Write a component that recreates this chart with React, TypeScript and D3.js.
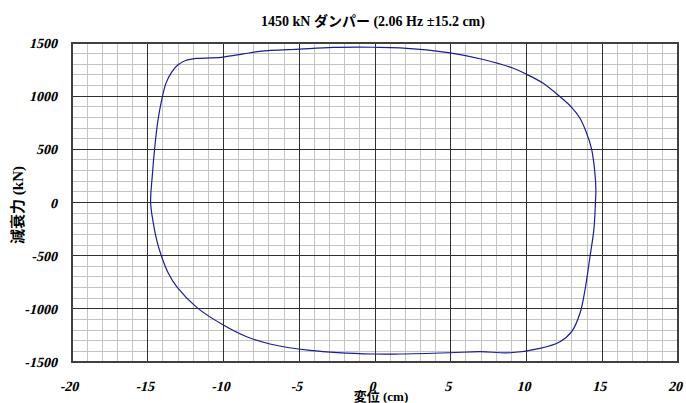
import React from "react";
import * as d3 from "d3";

const title = "1450 kN ダンパー (2.06 Hz  ±15.2 cm)";
const xTitle = "変位 (cm)";
const yTitle = "減衰力 (kN)";
const xTicks = [-20, -15, -10, -5, 0, 5, 10, 15, 20];
const yTicks = [-1500, -1000, -500, 0, 500, 1000, 1500];

// loop points (displacement cm, force kN)
const disp = [
  -14.81, -14.7, -14.55, -14.35, -14.1, -13.8, -13.4, -13.0, -12.5, -11.8, -10.8, -10.01, -8.69, -7.59, -4.95,
  -2.75, -0.11, 1.65, 4.95, 7.15, 9.13, 10.01, 11.1, 12.21, 12.98, 13.53, 13.97, 14.3, 14.5, 14.58,
  14.55, 14.45, 14.19, 13.86, 13.53, 12.98, 12.21, 10.89, 8.91, 6.93, 4.95, 1.65, -0.11, -4.29, -6.93,
  -8.47, -10.01, -11.77, -13.09, -13.64, -14.08, -14.41, -14.63,
];
const force = [
  0, 250, 500, 750, 950, 1120, 1230, 1295, 1335, 1355, 1360, 1368, 1397, 1422, 1443,
  1458, 1460, 1455, 1408, 1345, 1262, 1205, 1121, 995, 895, 792, 651, 500, 300, 120,
  0, -250, -510, -823, -1042, -1215, -1309, -1372, -1413, -1403, -1413, -1425, -1425, -1390, -1331,
  -1262, -1152, -986, -792, -666, -510, -353, -196,
];

export default function App() {
  const W = 686;
  const H = 403;
  const L = 72, R = 678, T = 43, B = 362;
  const x = d3.scaleLinear().domain([-20, 20]).range([L, R]);
  const y = d3.scaleLinear().domain([-1500, 1500]).range([B, T]);

  const minorX = d3.range(-20, 21, 1).filter((v) => v % 5 !== 0);
  const minorY = d3.range(-1500, 1501, 100).filter((v) => v % 500 !== 0);

  const pts: [number, number][] = disp.map((d, i) => [d, force[i]]);
  const line = d3
    .line<[number, number]>()
    .x((d) => x(d[0]))
    .y((d) => y(d[1]))
    .curve(d3.curveCatmullRomClosed.alpha(0.5));

  const serif = "'Liberation Serif', 'Times New Roman', 'Noto Sans CJK JP', serif";
  const tickStyle: React.CSSProperties = {
    fontFamily: serif,
    fontSize: "14px",
    fontWeight: "bold",
  };
  const labStyle: React.CSSProperties = {
    fontFamily: serif,
    fontSize: "13px",
    fontWeight: "bold",
  };

  return (
    <svg width={W} height={H} style={{ position: "absolute", left: 0, top: 0, background: "#fff" }}>
      <rect x={0} y={0} width={W} height={H} fill="#fff" />
      {minorX.map((v) => (
        <line key={"mx" + v} x1={x(v)} x2={x(v)} y1={T} y2={B} stroke="#c4c4c4" strokeWidth={1} shapeRendering="crispEdges" />
      ))}
      {minorY.map((v) => (
        <line key={"my" + v} x1={L} x2={R} y1={y(v)} y2={y(v)} stroke="#c4c4c4" strokeWidth={1} shapeRendering="crispEdges" />
      ))}
      {xTicks.map((v) => (
        <line key={"Mx" + v} x1={x(v)} x2={x(v)} y1={T} y2={B} stroke="#303030" strokeWidth={1} shapeRendering="crispEdges" />
      ))}
      {yTicks.map((v) => (
        <line key={"My" + v} x1={L} x2={R} y1={y(v)} y2={y(v)} stroke="#303030" strokeWidth={1} shapeRendering="crispEdges" />
      ))}
      <rect x={L} y={T} width={R - L} height={B - T} fill="none" stroke="#404040" strokeWidth={1.5} shapeRendering="crispEdges" />
      <path d={line(pts) || ""} fill="none" stroke="#1c1c96" strokeWidth={1.2} />
      {yTicks.map((v) => (
        <text key={"yl" + v} transform={`translate(57,${y(v) + 5}) skewX(-14)`} textAnchor="end" style={tickStyle}>
          {v}
        </text>
      ))}
      {xTicks.map((v) => (
        <text key={"xl" + v} transform={`translate(${x(v) - 3},391) skewX(-14)`} textAnchor="middle" style={tickStyle}>
          {v}
        </text>
      ))}
      <text x={373} y={26} textAnchor="middle" style={{ ...labStyle, fontSize: "14px" }}>
        {title}
      </text>
      <text x={381} y={401} textAnchor="middle" style={labStyle}>
        {xTitle}
      </text>
      <text transform={`translate(23,205) rotate(-90)`} textAnchor="middle" style={{ ...labStyle, fontSize: "15px" }}>
        {yTitle}
      </text>
    </svg>
  );
}
